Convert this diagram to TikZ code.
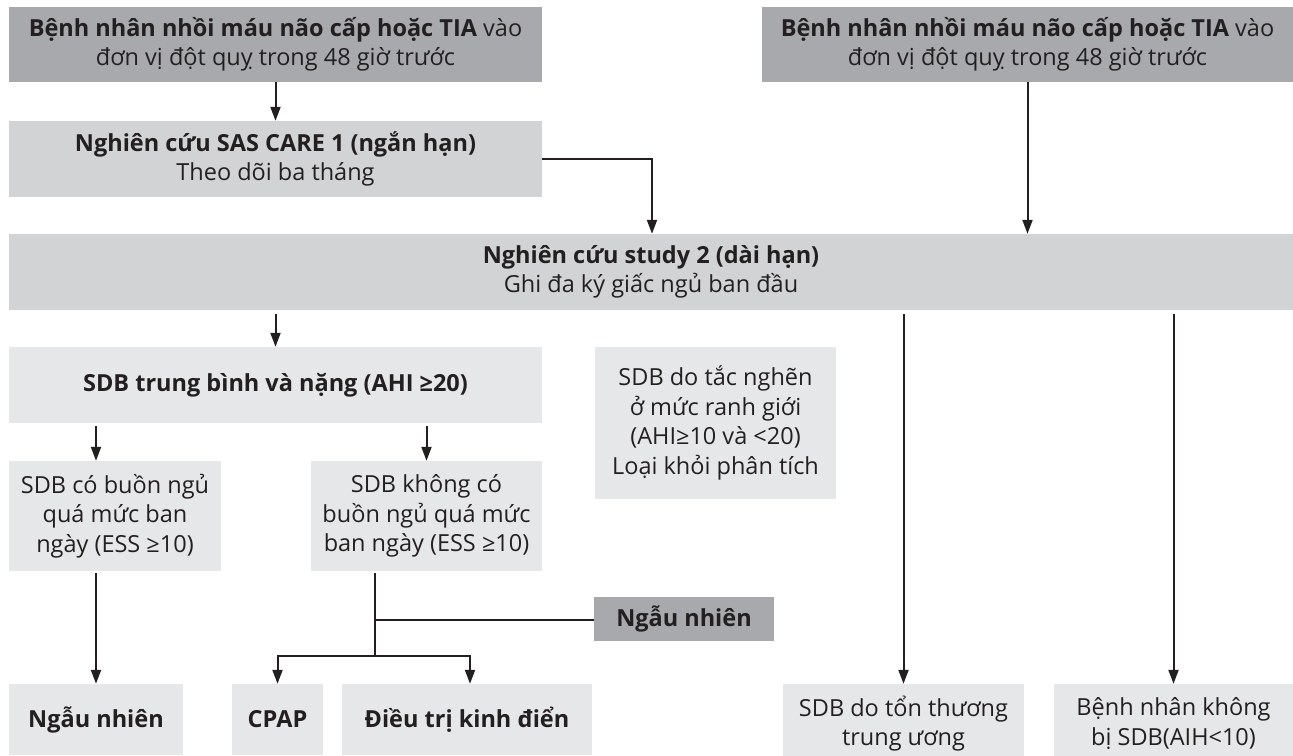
\documentclass[tikz,border=0pt]{standalone}
\usepackage{fontspec}
\setmainfont{Open Sans}
\usetikzlibrary{arrows.meta,calc}
\definecolor{boxdark}{HTML}{A7A9AC}
\definecolor{boxmid}{HTML}{D1D3D4}
\definecolor{boxlight}{HTML}{E6E7E8}
\definecolor{ink}{HTML}{231F20}
\begin{document}
\begin{tikzpicture}[x=1pt,y=-1pt,
  box/.style={rectangle,inner sep=0pt,align=center,text=ink,
    font=\fontsize{23.5}{29.5}\selectfont},
  dark/.style={box,fill=boxdark},
  mid/.style={box,fill=boxmid},
  light/.style={box,fill=boxlight},
  wire/.style={draw=ink,line width=2pt},
  arr/.style={wire,-{Triangle[length=14pt,width=10pt]}}]
\useasboundingbox (0,0) rectangle (1293,755);
% row 1
\node[dark,minimum width=533pt,minimum height=75pt] (top1) at (275.5,44.5)
  {\textbf{Bệnh nhân nhồi máu não cấp hoặc TIA} vào\\đơn vị đột quỵ trong 48 giờ trước};
\node[dark,minimum width=531pt,minimum height=75pt] (top2) at (1027.5,44.5)
  {\textbf{Bệnh nhân nhồi máu não cấp hoặc TIA} vào\\đơn vị đột quỵ trong 48 giờ trước};
\node[mid,minimum width=533pt,minimum height=76pt] (sas) at (275.5,159)
  {\textbf{Nghiên cứu SAS CARE 1 (ngắn hạn)}\\Theo dõi ba tháng};
\node[mid,minimum width=1284pt,minimum height=76pt] (big) at (651,272)
  {\textbf{Nghiên cứu study 2 (dài hạn)}\\Ghi đa ký giấc ngủ ban đầu};
% row 3
\node[light,minimum width=533pt,minimum height=76pt] (sdb) at (275.5,385)
  {\textbf{SDB trung bình và nặng (AHI ≥20)}};
\node[light,minimum width=241pt,minimum height=152pt] (tac) at (715.5,423)
  {SDB do tắc nghẽn\\ở mức ranh giới\\(AHI≥10 và <20)\\Loại khỏi phân tích};
% row 4
\node[light,minimum width=212pt,minimum height=110pt] (co) at (115,516)
  {SDB có buồn ngủ\\quá mức ban\\ngày (ESS ≥10)};
\node[light,minimum width=231pt,minimum height=110pt] (khong) at (426.5,516)
  {SDB không có\\buồn ngủ quá mức\\ban ngày (ESS ≥10)};
\node[dark,minimum width=180pt,minimum height=44pt] (ngau2) at (684,619)
  {\textbf{Ngẫu nhiên}};
% bottom row
\node[light,minimum width=174pt,minimum height=71pt] (nn1) at (96,719.5)
  {\textbf{Ngẫu nhiên}};
\node[light,minimum width=91pt,minimum height=71pt] (cpap) at (277.5,719.5)
  {\textbf{CPAP}};
\node[light,minimum width=250pt,minimum height=71pt] (dieu) at (467,719.5)
  {\textbf{Điều trị kinh điển}};
\node[light,minimum width=241pt,minimum height=79pt] (ton) at (903.5,723.5)
  {SDB do tổn thương\\trung ương};
\node[light,minimum width=239pt,minimum height=79pt] (kbi) at (1173.5,723.5)
  {Bệnh nhân không\\bị SDB(AIH<10)};
% junction points
\coordinate (j1) at (375,620);
\coordinate (j2) at (375,656);
% connectors
\draw[arr] (top1) -- (sas);
\draw[arr] (top2.south) -- (top2.south |- big.north);
\draw[arr] (sas.east) -| ([xshift=1pt]big.north);
\draw[arr,shorten <=4pt] (big.south -| sdb.north) -- (sdb.north);
\draw[arr,shorten <=4pt] (big.south -| ton.north) -- (ton.north);
\draw[arr,shorten <=4pt] (big.south -| kbi.north) -- (kbi.north);
\draw[arr,shorten <=3pt] (sdb.south -| nn1.north) -- (co.north -| nn1.north);
\draw[arr,shorten <=3pt] (sdb.south -| khong.north) -- (khong.north);
\draw[arr,shorten <=2pt] (co.south -| nn1.north) -- (nn1.north);
\draw[wire,shorten <=2pt] (khong.south -| j1) -- (j2);
\draw[wire] (j1) -- (ngau2.west |- j1);
\draw[arr] (j2) -| (cpap.north);
\draw[arr] (j2) -| ([xshift=3pt]dieu.north);
\end{tikzpicture}
\end{document}
